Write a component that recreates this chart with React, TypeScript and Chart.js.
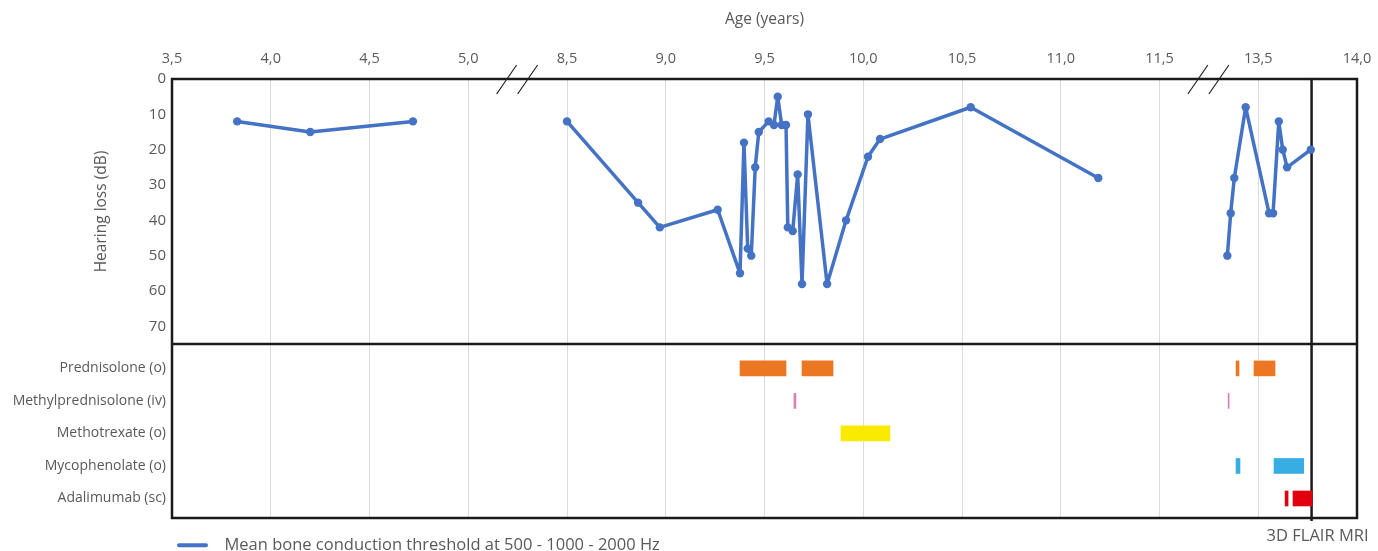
import React, { useEffect, useRef } from 'react';
import { Chart, registerables } from 'chart.js';

Chart.register(...registerables);

// ---------- data ----------
const ageTicks = [3.5, 4.0, 4.5, 5.0, 8.5, 9.0, 9.5, 10.0, 10.5, 11.0, 11.5, 13.5, 14.0];
const ageTickLabels = ['3,5', '4,0', '4,5', '5,0', '8,5', '9,0', '9,5', '10,0', '10,5', '11,0', '11,5', '13,5', '14,0'];
const breakAfterTickIndex = [3, 10];

const hearingTicks = [0, 10, 20, 30, 40, 50, 60, 70];
const hearingMax = 75;

const seriesLabel = 'Mean bone conduction threshold at 500 - 1000 - 2000 Hz';
// three separately connected measurement runs
const segment1Ages = [3.83, 4.2, 4.72];
const segment1Loss = [12, 15, 12];
const segment2Ages = [8.5, 8.86, 8.97, 9.263, 9.376, 9.396, 9.415, 9.433, 9.453, 9.471, 9.521, 9.548, 9.567, 9.587, 9.609, 9.618, 9.643, 9.668, 9.69, 9.72, 9.817, 9.913, 10.024, 10.085, 10.544, 11.19];
const segment2Loss = [12, 35, 42, 37, 55, 18, 48, 50, 25, 15, 12, 13, 5, 13, 13, 42, 43, 27, 58, 10, 58, 40, 22, 17, 8, 28];
const segment3Ages = [12.874, 12.942, 13.015, 13.245, 13.555, 13.575, 13.604, 13.624, 13.646, 13.766];
const segment3Loss = [50, 38, 28, 8, 38, 38, 12, 20, 25, 20];

const drugNames = ['Prednisolone (o)', 'Methylprednisolone (iv)', 'Methotrexate (o)', 'Mycophenolate (o)', 'Adalimumab (sc)'];
const prednisolone = [[9.376, 9.609], [9.69, 9.847], [13.05, 13.11], [13.414, 13.585]];
const methylprednisolone = [[9.649, 9.659], [12.89, 12.905]];
const methotrexate = [[9.887, 10.135]];
const mycophenolate = [[13.05, 13.13], [13.58, 13.73]];
const adalimumab = [[13.636, 13.651], [13.676, 13.772]];
const drugPeriods = [prednisolone, methylprednisolone, methotrexate, mycophenolate, adalimumab];
const drugColors = ['#EC7722', '#E07CB4', '#F9EA00', '#38ADE3', '#E2000F'];

const flairMriAge = 13.77;
const flairMriLabel = '3D FLAIR MRI';

// ---------- helpers ----------
// map an age onto the broken axis (one unit per tick interval)
function toAxis(age: number): number {
  for (let i = 0; i < ageTicks.length - 1; i++) {
    const a = ageTicks[i];
    const b = ageTicks[i + 1];
    if (age <= b || i === ageTicks.length - 2) {
      return i + (age - a) / (b - a);
    }
  }
  return 0;
}

const W = 1378;
const H = 551;
const TEXT = '#595959';
const FONT = "'Open Sans', 'Noto Sans', sans-serif";
const LINE = '#1a1a1a';

const decorPlugin = {
  id: 'decor',
  beforeDatasetsDraw(chart: any) {
    const { ctx, chartArea, scales } = chart;
    const x = scales.x;
    const y = scales.y;
    ctx.save();
    ctx.strokeStyle = LINE;
    ctx.lineWidth = 2.5;
    ctx.strokeRect(chartArea.left, chartArea.top, chartArea.right - chartArea.left, chartArea.bottom - chartArea.top);
    ctx.beginPath();
    ctx.moveTo(chartArea.left, y.bottom);
    ctx.lineTo(chartArea.right, y.bottom);
    ctx.stroke();
    const fx = x.getPixelForValue(toAxis(flairMriAge));
    ctx.beginPath();
    ctx.moveTo(fx, chartArea.top);
    ctx.lineTo(fx, chartArea.bottom + 3);
    ctx.stroke();
    ctx.fillStyle = TEXT;
    ctx.font = `16.5px ${FONT}`;
    ctx.textAlign = 'center';
    ctx.textBaseline = 'middle';
    ctx.fillText(flairMriLabel, fx + 6, chartArea.bottom + 18);
    // axis break marks
    ctx.strokeStyle = '#222';
    ctx.lineWidth = 1.2;
    for (const idx of breakAfterTickIndex) {
      const px = x.getPixelForValue(idx + 0.5);
      const t = chartArea.top;
      ctx.beginPath();
      ctx.moveTo(px - 21, t + 15);
      ctx.lineTo(px - 1, t - 14);
      ctx.moveTo(px, t + 15);
      ctx.lineTo(px + 20, t - 14);
      ctx.stroke();
    }
    ctx.restore();
  },
};

export default function App() {
  const canvasRef = useRef<HTMLCanvasElement | null>(null);

  useEffect(() => {
    document.body.style.margin = '0';
    const canvas = canvasRef.current;
    if (!canvas) return;

    const pts = (ages: number[], loss: number[]) => ages.map((a, i) => ({ x: toAxis(a), y: loss[i] }));
    const lineData: any[] = [
      ...pts(segment1Ages, segment1Loss),
      { x: toAxis(6.0), y: null },
      ...pts(segment2Ages, segment2Loss),
      { x: toAxis(12.0), y: null },
      ...pts(segment3Ages, segment3Loss),
    ];

    const barSets = drugPeriods.map((periods, row) => ({
      type: 'bar' as const,
      label: drugNames[row],
      indexAxis: 'y' as const,
      xAxisID: 'x',
      yAxisID: 'y2',
      data: periods.map((p) => ({ x: [toAxis(p[0]), toAxis(p[1])], y: row + 1 })),
      backgroundColor: drugColors[row],
      borderWidth: 0,
      grouped: false,
      barThickness: 15,
      maxBarThickness: 15,
      minBarLength: 1,
    }));

    const chart = new Chart(canvas, {
      type: 'line',
      data: {
        datasets: [
          {
            type: 'line',
            label: seriesLabel,
            xAxisID: 'x',
            yAxisID: 'y',
            data: lineData,
            borderColor: '#4472C4',
            backgroundColor: '#4472C4',
            borderWidth: 3.5,
            borderJoinStyle: 'round',
            borderCapStyle: 'round',
            pointRadius: 4.2,
            pointBackgroundColor: '#4472C4',
            pointBorderWidth: 0,
            tension: 0,
            spanGaps: false,
          } as any,
          ...(barSets as any[]),
        ],
      },
      plugins: [decorPlugin],
      options: {
        animation: false,
        responsive: false,
        maintainAspectRatio: false,
        layout: { padding: { left: 0, right: 21, top: 0, bottom: 0 } },
        font: { family: FONT },
        scales: {
          x: {
            type: 'linear',
            position: 'top',
            min: 0,
            max: ageTicks.length - 1,
            offset: false,
            ticks: {
              stepSize: 1,
              autoSkip: false,
              maxRotation: 0,
              padding: 11,
              color: TEXT,
              font: { size: 14.5, family: FONT },
              callback: (v: any) => ageTickLabels[v] ?? '',
            },
            grid: { color: '#DCDCDC', lineWidth: 1, drawTicks: false },
            border: { display: false },
            title: {
              display: true,
              text: 'Age (years)',
              color: TEXT,
              font: { size: 15.5, family: FONT },
              padding: { top: 10, bottom: 0 },
            },
            afterFit: (s: any) => { s.height = 79; s.paddingLeft = 0; s.paddingRight = 0; },
          } as any,
          y: {
            type: 'linear',
            axis: 'y',
            position: 'left',
            stack: 'panels',
            stackWeight: 265,
            weight: 2,
            reverse: true,
            min: 0,
            max: hearingMax,
            offset: false,
            afterBuildTicks: (s: any) => { s.ticks = hearingTicks.map((v) => ({ value: v })); },
            ticks: { color: TEXT, font: { size: 15, family: FONT }, padding: 6 },
            grid: { display: false, drawTicks: false },
            border: { display: false },
            title: {
              display: true,
              text: 'Hearing loss (dB)',
              color: TEXT,
              font: { size: 15.5, family: FONT },
              padding: { top: 92, bottom: 0 },
            },
            afterFit: (s: any) => { s.width = 172; },
          } as any,
          y2: {
            type: 'linear',
            axis: 'y',
            position: 'left',
            stack: 'panels',
            stackWeight: 174,
            weight: 1,
            reverse: true,
            min: 0.25,
            max: 5.6,
            offset: false,
            afterBuildTicks: (s: any) => { s.ticks = drugNames.map((_, i) => ({ value: i + 1 })); },
            ticks: {
              color: TEXT,
              font: { size: 14, family: FONT },
              padding: 6,
              callback: (v: any) => drugNames[v - 1] ?? '',
            },
            grid: { display: false, drawTicks: false },
            border: { display: false },
            afterFit: (s: any) => { s.width = 172; },
          } as any,
        },
        plugins: {
          tooltip: { enabled: false },
          legend: {
            display: true,
            position: 'bottom',
            align: 'start',
            fullSize: false,
            maxHeight: 33,
            title: { display: true, text: '', font: { size: 10 }, padding: { top: 2, bottom: 0 } },
            labels: {
              color: TEXT,
              font: { size: 16.5, family: FONT },
              padding: 5,
              boxWidth: 31,
              boxHeight: 4,
              generateLabels: () => [
                {
                  text: '\u2002' + seriesLabel,
                  fillStyle: '#4472C4',
                  strokeStyle: '#4472C4',
                  lineWidth: 0,
                  borderRadius: 2,
                  datasetIndex: 0,
                  hidden: false,
                  fontColor: TEXT,
                } as any,
              ],
            },
          },
        },
      } as any,
    });

    return () => chart.destroy();
  }, []);

  return (
    <div style={{ width: `${W}px`, height: `${H}px`, position: 'relative' }}>
      <canvas ref={canvasRef} width={W} height={H} style={{ display: 'block', width: `${W}px`, height: `${H}px` }} />
    </div>
  );
}
